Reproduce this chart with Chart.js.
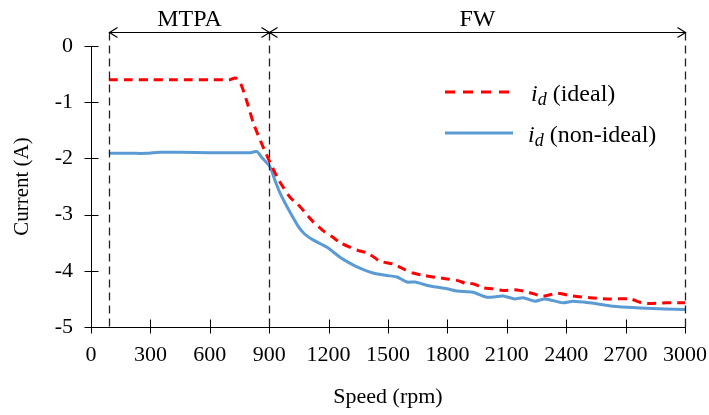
<!DOCTYPE html>
<html>
<head>
<meta charset="utf-8">
<script src="https://cdn.jsdelivr.net/npm/chart.js@4.4.0/dist/chart.umd.min.js"></script>
<style>
html,body{margin:0;padding:0;background:#fff;}
#wrap{width:709px;height:415px;position:relative;}
</style>
</head>
<body>
<div id="wrap"><canvas id="c" width="709" height="415"></canvas></div>
<script>
// Data
const speedIdeal = [90, 200, 300, 400, 500, 600, 700, 730, 755, 790, 820, 860, 900, 940, 970, 1005, 1056, 1120, 1170, 1220, 1260, 1308, 1350, 1394, 1430, 1460, 1525, 1580, 1626, 1680, 1727, 1790, 1848, 1899, 1929, 1980, 2030, 2081, 2152, 2217, 2283, 2354, 2434, 2520, 2606, 2722, 2773, 2808, 2909, 3000];
const idIdeal = [-0.60, -0.60, -0.60, -0.60, -0.60, -0.60, -0.60, -0.57, -0.66, -1.02, -1.37, -1.72, -2.04, -2.33, -2.51, -2.69, -2.86, -3.12, -3.28, -3.40, -3.50, -3.58, -3.64, -3.68, -3.76, -3.83, -3.88, -3.97, -4.04, -4.08, -4.11, -4.14, -4.17, -4.23, -4.23, -4.30, -4.32, -4.35, -4.34, -4.39, -4.45, -4.40, -4.45, -4.48, -4.50, -4.50, -4.56, -4.58, -4.57, -4.57];
const speedNonIdeal = [90, 200, 280, 348, 450, 600, 700, 800, 838, 864, 904, 930, 955, 990, 1045, 1080, 1121, 1192, 1258, 1300, 1343, 1424, 1510, 1545, 1596, 1636, 1712, 1798, 1848, 1929, 2000, 2081, 2141, 2182, 2242, 2293, 2384, 2434, 2520, 2636, 2773, 2900, 3000];
const idNonIdeal = [-1.91, -1.91, -1.91, -1.89, -1.89, -1.90, -1.90, -1.90, -1.88, -1.99, -2.15, -2.40, -2.62, -2.86, -3.20, -3.35, -3.45, -3.58, -3.76, -3.85, -3.93, -4.04, -4.09, -4.11, -4.20, -4.20, -4.27, -4.32, -4.36, -4.38, -4.47, -4.45, -4.50, -4.48, -4.54, -4.50, -4.57, -4.54, -4.57, -4.63, -4.66, -4.68, -4.69];
const xTicks = [0, 300, 600, 900, 1200, 1500, 1800, 2100, 2400, 2700, 3000];
const yTicks = [0, -1, -2, -3, -4, -5];
const regionBounds = [90, 900, 3000];
const regionLabels = ['MTPA', 'FW'];
const seriesNames = ['(ideal)', '(non-ideal)'];

const FONT = '"Liberation Serif", "Times New Roman", serif';

function pts(xs, ys) { return xs.map((x, i) => ({x: x, y: ys[i]})); }

const decor = {
  id: 'decor',
  afterDraw(chart) {
    const ctx = chart.ctx;
    const xs = chart.scales.x, ys = chart.scales.y;
    const ca = chart.chartArea;
    ctx.save();
    ctx.strokeStyle = '#000';
    ctx.lineWidth = 1;
    const x0 = Math.round(xs.getPixelForValue(0)) + 0.5;
    const yb = Math.round(ys.getPixelForValue(-5)) + 0.5;
    ctx.beginPath();
    ctx.moveTo(x0, ys.getPixelForValue(0));
    ctx.lineTo(x0, yb);
    ctx.moveTo(x0, yb);
    ctx.lineTo(xs.getPixelForValue(3000), yb);
    ctx.stroke();
    ctx.beginPath();
    yTicks.forEach(v => {
      const y = Math.round(ys.getPixelForValue(v)) + 0.5;
      ctx.moveTo(x0 - 7, y); ctx.lineTo(x0 + 7, y);
    });
    xTicks.forEach(v => {
      const x = Math.round(xs.getPixelForValue(v)) + 0.5;
      ctx.moveTo(x, yb - 8); ctx.lineTo(x, yb + 6);
    });
    ctx.stroke();
    const arrowY = Math.round(ca.top - 14) + 0.5;
    ctx.strokeStyle = '#222';
    ctx.lineWidth = 1.3;
    ctx.setLineDash([8, 5]);
    ctx.beginPath();
    regionBounds.forEach(v => {
      const x = Math.round(xs.getPixelForValue(v)) + 0.5;
      ctx.moveTo(x, arrowY); ctx.lineTo(x, yb);
    });
    ctx.stroke();
    ctx.setLineDash([]);
    ctx.strokeStyle = '#000';
    ctx.lineWidth = 1.2;
    const px = regionBounds.map(v => Math.round(xs.getPixelForValue(v)) + 0.5);
    ctx.beginPath();
    ctx.moveTo(px[0], arrowY); ctx.lineTo(px[2], arrowY);
    const h = 8, w = 5;
    for (let i = 0; i < px.length - 1; i++) {
      const a = px[i], b = px[i + 1];
      ctx.moveTo(a + h, arrowY - w); ctx.lineTo(a, arrowY); ctx.lineTo(a + h, arrowY + w);
      ctx.moveTo(b - h, arrowY - w); ctx.lineTo(b, arrowY); ctx.lineTo(b - h, arrowY + w);
    }
    ctx.stroke();
    ctx.fillStyle = '#000';
    ctx.font = '24px ' + FONT;
    ctx.textAlign = 'center';
    ctx.textBaseline = 'alphabetic';
    for (let i = 0; i < regionLabels.length; i++) {
      ctx.fillText(regionLabels[i], (px[i] + px[i + 1]) / 2, arrowY - 7);
    }
    const items = [
      {color: '#ff0000', dash: [10, 8], y: 92, name: seriesNames[0], x: 531},
      {color: '#5b9bd5', dash: [], y: 133, name: seriesNames[1], x: 528}
    ];
    items.forEach(it => {
      ctx.strokeStyle = it.color;
      ctx.lineWidth = 3;
      ctx.setLineDash(it.dash);
      ctx.beginPath();
      ctx.moveTo(445, it.y); ctx.lineTo(513, it.y);
      ctx.stroke();
      ctx.setLineDash([]);
      ctx.fillStyle = '#000';
      ctx.textAlign = 'left';
      let tx = it.x;
      const base = it.y + 9;
      ctx.font = 'italic 24px ' + FONT;
      ctx.fillText('i', tx, base);
      tx += ctx.measureText('i').width;
      ctx.font = 'italic 18px ' + FONT;
      ctx.fillText('d', tx, base + 4);
      tx += ctx.measureText('d').width;
      ctx.font = '24px ' + FONT;
      ctx.fillText(' ' + it.name, tx, base);
    });
    ctx.restore();
  }
};

new Chart(document.getElementById('c'), {
  type: 'line',
  data: {
    datasets: [
      {
        label: 'id (ideal)',
        data: pts(speedIdeal, idIdeal),
        borderColor: '#ff0000',
        borderWidth: 3,
        borderDash: [9, 6],
        pointRadius: 0,
        tension: 0.25,
        fill: false
      },
      {
        label: 'id (non-ideal)',
        data: pts(speedNonIdeal, idNonIdeal),
        borderColor: '#5b9bd5',
        borderWidth: 3,
        pointRadius: 0,
        tension: 0.25,
        fill: false
      }
    ]
  },
  options: {
    responsive: false,
    animation: false,
    layout: {padding: {top: 46, right: 24, left: 0, bottom: 0}},
    plugins: {legend: {display: false}, tooltip: {enabled: false}},
    scales: {
      x: {
        type: 'linear',
        min: 0, max: 3000,
        afterBuildTicks: s => { s.ticks = xTicks.map(v => ({value: v})); },
        afterFit: s => { s.height = 88; s.paddingLeft = 0; s.paddingRight = 0; },
        grid: {display: false, drawTicks: false},
        border: {display: false},
        ticks: {color: '#000', font: {family: FONT, size: 22}, padding: 15, maxRotation: 0, autoSkip: false, callback: v => String(v)},
        title: {display: true, text: 'Speed (rpm)', color: '#000', font: {family: FONT, size: 22}, padding: {top: 0, bottom: 5}}
      },
      y: {
        type: 'linear',
        min: -5, max: 0,
        afterBuildTicks: s => { s.ticks = yTicks.map(v => ({value: v})); },
        afterFit: s => { s.width = 91; s.paddingTop = 0; s.paddingBottom = 0; },
        grid: {display: false, drawTicks: false},
        border: {display: false},
        ticks: {color: '#000', font: {family: FONT, size: 22}, padding: 18, callback: v => String(v)},
        title: {display: true, text: 'Current (A)', color: '#000', font: {family: FONT, size: 21}, padding: {top: 10, bottom: 0}}
      }
    }
  },
  plugins: [decor]
});
</script>
</body>
</html>
